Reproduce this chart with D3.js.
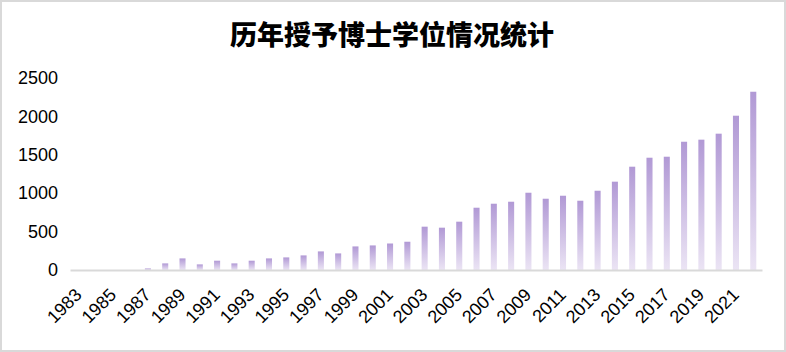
<!DOCTYPE html>
<html>
<head>
<meta charset="utf-8">
<script src="https://cdn.jsdelivr.net/npm/d3@7/dist/d3.min.js"></script>
<style>
  body { margin: 0; background: #fff; }
  svg { display: block; }
</style>
</head>
<body>
<svg id="chart"></svg>
<script>
const width = 786;
const height = 352;
const margin = { top: 78, right: 24, bottom: 82, left: 70 };

const years = d3.range(1983, 2023).map(String);
const degrees = [
    0, 0, 0, 0, 20, 86, 151, 73, 121, 86,
    121, 151, 164, 190, 242, 216, 307, 320, 345, 368,
    564, 551, 629, 811, 863, 889, 1006, 928, 967, 902,
    1032, 1150, 1345, 1462, 1475, 1670, 1697, 1775, 2009, 2321
];
const yTicks = [0, 500, 1000, 1500, 2000, 2500];
const title = "历年授予博士学位情况统计";

const svg = d3.select("#chart")
    .attr("width", width)
    .attr("height", height);

// outer frame
svg.append("rect")
    .attr("x", 1).attr("y", 1)
    .attr("width", width - 2).attr("height", height - 2)
    .attr("fill", "#fff")
    .attr("stroke", "#d9d9d9")
    .attr("stroke-width", 2);

const defs = svg.append("defs");
const grad = defs.append("linearGradient")
    .attr("id", "barGrad")
    .attr("x1", 0).attr("y1", 0)
    .attr("x2", 0).attr("y2", 1);
grad.append("stop").attr("offset", "0%").attr("stop-color", "#b199d5");
grad.append("stop").attr("offset", "100%").attr("stop-color", "#ebe4f4");

const x = d3.scaleBand()
    .domain(years)
    .range([margin.left, width - margin.right])
    .paddingInner(0.65)
    .paddingOuter(0.33);

const y = d3.scaleLinear()
    .domain([0, 2500])
    .range([height - margin.bottom, margin.top]);

// title
svg.append("text")
    .attr("x", 392)
    .attr("y", 45)
    .attr("text-anchor", "middle")
    .style("font-family", "'Noto Sans CJK SC', sans-serif")
    .style("font-size", "27px")
    .style("font-weight", "900")
    .text(title);

// bars
svg.append("g")
    .selectAll("rect")
    .data(years)
    .join("rect")
    .attr("x", d => x(d))
    .attr("width", x.bandwidth())
    .attr("y", (d, i) => y(degrees[i]))
    .attr("height", (d, i) => y(0) - y(degrees[i]))
    .attr("fill", "url(#barGrad)");

// y axis labels
const yAxis = svg.append("g")
    .attr("transform", `translate(${margin.left - 12}, 0)`)
    .call(d3.axisLeft(y).tickValues(yTicks).tickFormat(d3.format("d")).tickSize(0).tickPadding(0));
yAxis.select(".domain").remove();
yAxis.selectAll("text")
    .style("font-family", "'Liberation Sans', Arial, sans-serif")
    .style("font-size", "18px")
    .attr("fill", "#000");

// x axis
const xAxis = svg.append("g")
    .attr("transform", `translate(0, ${y(0)})`)
    .call(d3.axisBottom(x)
        .tickValues(years.filter((d, i) => i % 2 === 0))
        .tickSize(0));
xAxis.select(".domain")
    .attr("stroke", "#d9d9d9")
    .attr("stroke-width", 2);
xAxis.selectAll("text")
    .style("font-family", "'Liberation Sans', Arial, sans-serif")
    .style("font-size", "18px")
    .attr("fill", "#000")
    .attr("text-anchor", "end")
    .attr("dy", null)
    .attr("y", 0)
    .attr("transform", "translate(4, 26) rotate(-45)");
</script>
</body>
</html>
